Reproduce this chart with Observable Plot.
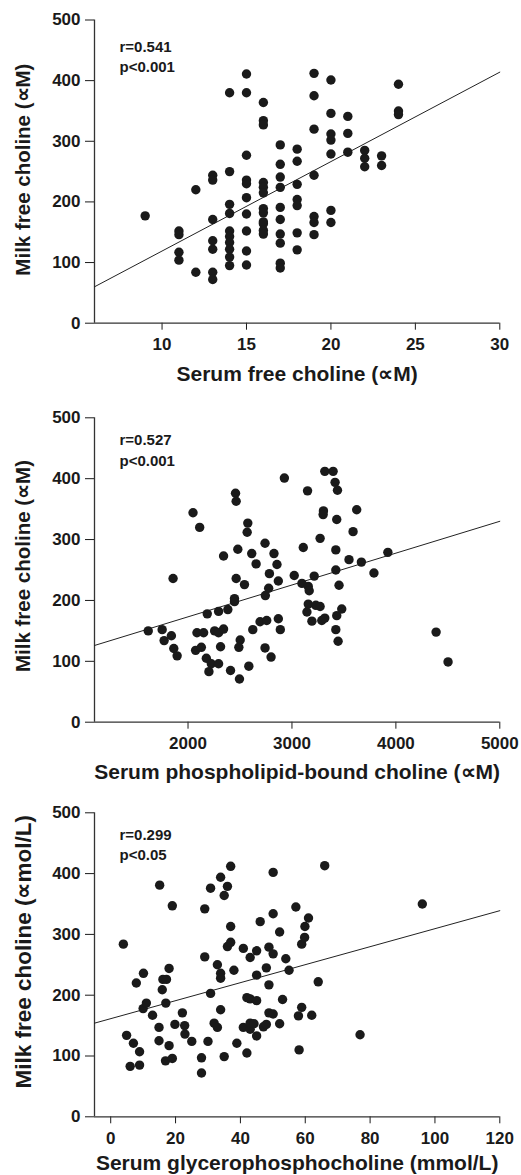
<!DOCTYPE html>
<html>
<head>
<meta charset="utf-8">
<script src="https://cdn.jsdelivr.net/npm/d3@7"></script>
<script src="https://cdn.jsdelivr.net/npm/@observablehq/plot@0.6"></script>
<style>
  body { margin: 0; background: #fff; }
  #chart svg { display: block; }
</style>
</head>
<body>
<div id="chart"></div>
<script>
// ---------- Data ----------
const yTicks = [0, 100, 200, 300, 400, 500];

// Panel 1: serum free choline (µM) vs milk free choline (µM)
const p1X = [9, 11,11,11,11, 12,12, 13,13,13,13,13,13,13,
  14,14,14,14,14,14,14,14,14,14, 15,15,15,15,15,15,15,15,15,15,
  16,16,16,16,16,16,16,16,16,16,16,16, 17,17,17,17,17,17,17,17,17,17,
  18,18,18,18,18,18,18, 19,19,19,19,19,19,19, 20,20,20,20,20,20,20,
  21,21,21, 22,22,22, 23,23, 24,24,24];
const p1Y = [177, 152,146,117,104, 220,84, 244,236,171,136,122,84,72,
  380,250,196,181,152,143,133,122,109,95, 411,380,277,236,230,207,180,152,119,96,
  364,334,327,232,224,215,189,182,167,164,153,147, 294,262,241,224,191,171,147,132,99,91,
  287,267,229,204,194,149,121, 412,375,320,244,176,166,146, 401,346,312,302,279,186,166,
  341,313,282, 285,272,258, 276,260, 394,350,344];
const p1Ticks = [10, 15, 20, 25, 30];
const p1FitX = [6, 30];
const p1FitY = [60, 414];

// Panel 2: serum phospholipid-bound choline (µM) vs milk free choline (µM)
const p2X = [1617,1751,1770,1840,1856,1863,1895,2048,2112,2185,2073,2128,2086,2150,2176,2201,
  2224,2294,2256,2294,2342,2294,2313,2342,2383,2409,2447,2447,2463,2457,2463,2479,2495,2502,
  2489,2543,2575,2569,2585,2613,2623,2655,2693,2741,2744,2741,2757,2783,2776,2799,2827,2856,
  2869,2869,2888,2927,3022,3096,3109,3150,3157,3166,3144,3157,3192,3214,3230,3271,3271,3287,
  3303,3300,3316,3316,3396,3415,3438,3431,3422,3422,3453,3431,3422,3444,3479,3549,3588,3623,
  3668,3789,3923,4387,4502];
const p2Y = [150,152,134,142,236,121,109,344,320,178,118,123,147,147,105,83,
  96,96,150,147,153,182,124,273,185,85,198,203,236,376,363,284,71,135,
  123,226,327,312,92,277,152,260,165,294,208,122,167,244,220,107,277,259,
  232,170,152,401,241,228,287,380,223,216,181,194,166,240,192,190,302,167,
  347,341,412,171,412,394,381,333,283,250,225,175,152,133,186,267,313,349,
  263,245,279,148,99];
const p2Ticks = [2000, 3000, 4000, 5000];
const p2FitX = [1100, 5000];
const p2FitY = [126, 330];

// Panel 3: serum glycerophosphocholine (mmol/L) vs milk free choline (µmol/L)
const p3X = [3.9,4.9,6.0,7.0,7.9,8.9,8.9,10.1,10.0,11.0,12.9,14.9,14.9,15.1,15.9,16.1,17.2,16.9,
  17.0,18.0,18.0,19.0,19.0,19.8,22.1,22.8,22.9,25.0,28.0,28.0,29.0,29.0,30.0,30.8,30.8,31.9,
  32.9,32.9,33.9,33.9,33.9,33.9,35.0,35.0,36.0,36.0,37.0,37.0,37.0,38.0,38.9,40.9,40.9,42.0,
  42.0,43.0,43.0,43.0,43.0,44.2,45.0,45.0,45.0,45.0,46.1,47.1,48.0,48.0,48.8,48.8,48.8,50.1,
  50.1,50.1,50.1,52.1,52.1,53.0,54.0,55.0,57.1,57.9,58.1,58.9,58.9,59.8,59.9,61.0,62.0,64.0,
  66.0,76.9,96.1];
const p3Y = [284,134,83,121,220,107,85,236,178,187,167,147,125,381,209,226,226,92,
  187,244,117,347,96,152,171,150,136,124,97,72,263,342,124,203,376,154,
  147,250,236,228,176,394,99,364,379,280,287,313,412,241,121,277,147,105,
  196,262,194,144,154,153,273,233,191,133,321,148,245,152,279,217,171,268,
  169,402,334,304,153,193,260,241,345,166,110,180,284,295,313,327,167,222,
  413,135,350];
const p3Ticks = [0, 20, 40, 60, 80, 100, 120];
const p3FitX = [-5, 120];
const p3FitY = [154, 339];

// ---------- Drawing ----------
const FONT = "'Liberation Sans', Arial, Helvetica, sans-serif";
const INK = "#1a1a1a";

function panel(cfg) {
  const pts = cfg.xs.map((x, i) => ({x, y: cfg.ys[i]}));
  const fit = cfg.fitX.map((x, i) => ({x, y: cfg.fitY[i]}));
  return Plot.plot({
    width: 521,
    height: cfg.height,
    marginTop: cfg.marginTop,
    marginBottom: cfg.marginBottom,
    marginLeft: 94,
    marginRight: 21.7,
    style: {fontFamily: FONT, fontWeight: "bold", fontSize: "17px", color: INK, background: "#fff", overflow: "visible"},
    x: {domain: cfg.xDomain, ticks: cfg.xTicks, tickFormat: "d", tickSize: 7, tickPadding: 8, label: null},
    y: {domain: [0, 500], ticks: yTicks, tickFormat: "d", tickSize: 9, tickPadding: 5, label: null},
    marks: [
      Plot.ruleX([cfg.xDomain[0]], {stroke: "#333", strokeWidth: 1.3}),
      Plot.ruleY([0], {stroke: "#333", strokeWidth: 1.3}),
      Plot.line(fit, {x: "x", y: "y", stroke: "#222", strokeWidth: 1}),
      Plot.dot(pts, {x: "x", y: "y", r: 4.7, fill: INK, stroke: "none"}),
      Plot.text([cfg.r], {frameAnchor: "top-left", dx: 25, dy: cfg.rDy, textAnchor: "start", lineAnchor: "middle", fontSize: 15, fill: INK}),
      Plot.text([cfg.p], {frameAnchor: "top-left", dx: 25, dy: cfg.pDy, textAnchor: "start", lineAnchor: "middle", fontSize: 15, fill: INK}),
      Plot.text([cfg.xLabel], {frameAnchor: "bottom", dy: cfg.xTitleDy, textAnchor: "middle", lineAnchor: "middle", fontSize: 21, fill: INK}),
      Plot.text([cfg.yLabel], {frameAnchor: "left", dx: -71, dy: cfg.yTitleDy, rotate: -90, textAnchor: "middle", lineAnchor: "middle", fontSize: cfg.yTitleSize, fill: INK})
    ]
  });
}

const chart = document.getElementById("chart");
chart.append(panel({
  xs: p1X, ys: p1Y, fitX: p1FitX, fitY: p1FitY, xDomain: [6, 30], xTicks: p1Ticks,
  xLabel: "Serum free choline (∝M)", yLabel: "Milk free choline (∝M)",
  r: "r=0.541", p: "p<0.001", rDy: 27, pDy: 47,
  height: 398, marginTop: 19.5, marginBottom: 75.3, xTitleDy: 51, yTitleDy: -2, yTitleSize: 20.5
}));
chart.append(panel({
  xs: p2X, ys: p2Y, fitX: p2FitX, fitY: p2FitY, xDomain: [1100, 5000], xTicks: p2Ticks,
  xLabel: "Serum phospholipid-bound choline (∝M)", yLabel: "Milk free choline (∝M)",
  r: "r=0.527", p: "p<0.001", rDy: 22, pDy: 43,
  height: 395, marginTop: 19.3, marginBottom: 71.3, xTitleDy: 50, yTitleDy: -4, yTitleSize: 20.5
}));
chart.append(panel({
  xs: p3X, ys: p3Y, fitX: p3FitX, fitY: p3FitY, xDomain: [-5, 120], xTicks: p3Ticks,
  xLabel: "Serum glycerophosphocholine (mmol/L)", yLabel: "Milk free choline (∝mol/L)",
  r: "r=0.299", p: "p<0.05", rDy: 22, pDy: 42,
  height: 382, marginTop: 19.3, marginBottom: 58.7, xTitleDy: 46, yTitleDy: -13, yTitleSize: 22.5
}));
</script>
</body>
</html>
